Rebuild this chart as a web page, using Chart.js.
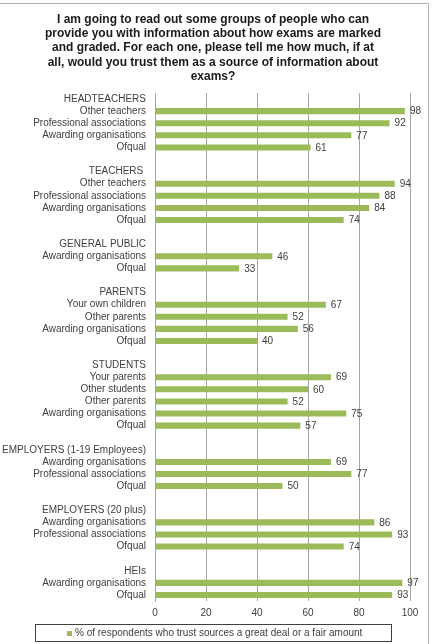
<!DOCTYPE html>
<html>
<head>
<meta charset="utf-8">
<script src="https://cdn.jsdelivr.net/npm/chart.js@4.4.1/dist/chart.umd.min.js"></script>
<style>
  html, body { margin: 0; padding: 0; background: #fff; }
  #wrap { width: 432px; height: 644px; position: relative; }
</style>
</head>
<body>
<div id="wrap"><canvas id="chart"></canvas></div>
<script>
// row labels (group headers and blank spacer rows included)
const categories = [
    'HEADTEACHERS', 'Other teachers', 'Professional associations', 'Awarding organisations', 'Ofqual', '',
    'TEACHERS ', 'Other teachers', 'Professional associations', 'Awarding organisations', 'Ofqual', '',
    'GENERAL PUBLIC', 'Awarding organisations', 'Ofqual', '',
    'PARENTS', 'Your own children', 'Other parents', 'Awarding organisations', 'Ofqual', '',
    'STUDENTS', 'Your parents', 'Other students', 'Other parents', 'Awarding organisations', 'Ofqual', '',
    'EMPLOYERS (1-19 Employees)', 'Awarding organisations', 'Professional associations', 'Ofqual', '',
    'EMPLOYERS (20 plus)', 'Awarding organisations', 'Professional associations', 'Ofqual', '',
    'HEIs', 'Awarding organisations', 'Ofqual'
];
const trustValues = [
    null, 98, 92, 77, 61, null,
    null, 94, 88, 84, 74, null,
    null, 46, 33, null,
    null, 67, 52, 56, 40, null,
    null, 69, 60, 52, 75, 57, null,
    null, 69, 77, 50, null,
    null, 86, 93, 74, null,
    null, 97, 93
];
const xTicks = [0, 20, 40, 60, 80, 100];
const seriesName = '% of respondents who trust sources a great deal or a fair amount';
const titleLines = [
    'I am going to read out some groups of people who can',
    'provide you with information about how exams are marked',
    'and graded. For each one, please tell me how much, if at',
    'all, would you trust them as a source of information about',
    'exams?'
];

const FONT = '"Liberation Sans", Arial, sans-serif';
const TEXT = '#404040';
const GREEN = '#9bbb59';
const GRID = '#a6a6a6';

// outer frame + white background
const framePlugin = {
    id: 'frame',
    beforeDraw(chart) {
        const ctx = chart.ctx;
        ctx.save();
        ctx.fillStyle = '#fff';
        ctx.fillRect(0, 0, chart.width, chart.height);
        ctx.strokeStyle = '#b4b4b4';
        ctx.lineWidth = 1;
        ctx.strokeRect(-2.5, 3.5, 431, 660);
        ctx.restore();
    }
};

// value labels at the end of each bar
const valueLabels = {
    id: 'valueLabels',
    afterDatasetsDraw(chart) {
        const ctx = chart.ctx;
        const meta = chart.getDatasetMeta(0);
        ctx.save();
        ctx.font = '10px ' + FONT;
        ctx.fillStyle = TEXT;
        ctx.textAlign = 'left';
        ctx.textBaseline = 'middle';
        meta.data.forEach((bar, i) => {
            const v = trustValues[i];
            if (v === null) return;
            ctx.fillText(String(v), bar.x + 5, bar.y + 0.5);
        });
        ctx.restore();
    }
};

// boxed legend under the axis (Excel style)
const boxedLegend = {
    id: 'boxedLegend',
    afterDraw(chart) {
        const ctx = chart.ctx;
        const cx = 215, cy = 633;
        ctx.save();
        ctx.strokeStyle = '#404040';
        ctx.lineWidth = 1;
        ctx.strokeRect(35.5, 624.5, 356, 17);
        ctx.font = '10px ' + FONT;
        const tw = ctx.measureText(seriesName).width;
        const total = 5 + 3 + tw;
        const x0 = Math.round(cx - total / 2);
        ctx.fillStyle = chart.data.datasets[0].backgroundColor;
        ctx.fillRect(x0, cy - 2, 5, 5);
        ctx.fillStyle = TEXT;
        ctx.textAlign = 'left';
        ctx.textBaseline = 'middle';
        ctx.fillText(seriesName, x0 + 8, cy + 0.5);
        ctx.restore();
    }
};

new Chart(document.getElementById('chart'), {
    type: 'bar',
    data: {
        labels: categories,
        datasets: [{
            label: seriesName,
            data: trustValues,
            backgroundColor: GREEN,
            borderWidth: 0,
            barPercentage: 0.5,
            categoryPercentage: 1.0
        }]
    },
    options: {
        indexAxis: 'y',
        responsive: true,
        maintainAspectRatio: false,
        animation: false,
        devicePixelRatio: 1,
        layout: { padding: { left: 0, right: 6, top: 0, bottom: 24 } },
        plugins: {
            title: {
                display: true,
                text: titleLines,
                color: '#1a1a1a',
                font: { family: FONT, size: 12, weight: 'bold', lineHeight: 1.2 },
                padding: { top: 12, bottom: 9 }
            },
            legend: { display: false },
            tooltip: { enabled: false }
        },
        scales: {
            x: {
                min: 0,
                max: 100,
                afterBuildTicks(scale) {
                    scale.ticks = xTicks.map(v => ({ value: v }));
                },
                ticks: {
                    color: TEXT,
                    font: { family: FONT, size: 10 },
                    padding: 6
                },
                grid: { color: GRID, drawTicks: false },
                border: { display: false },
                afterFit(scale) { scale.height = 19; }
            },
            y: {
                ticks: {
                    color: TEXT,
                    font: { family: FONT, size: 10 },
                    padding: 9,
                    autoSkip: false
                },
                grid: { display: false, drawTicks: false },
                border: { display: true, color: GRID },
                afterFit(scale) { scale.width = 155; }
            },
            yRight: {
                type: 'linear',
                position: 'right',
                display: true,
                ticks: { display: false },
                grid: { display: false, drawTicks: false },
                border: { display: false },
                afterFit(scale) { scale.width = 16; }
            }
        }
    },
    plugins: [framePlugin, valueLabels, boxedLegend]
});
</script>
</body>
</html>
